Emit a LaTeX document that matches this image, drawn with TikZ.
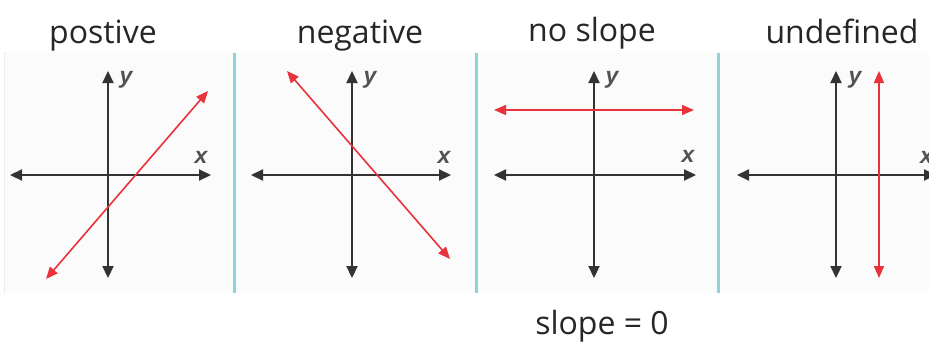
\documentclass[tikz,border=0pt]{standalone}
\usepackage{fontspec}
\setmainfont{Open Sans}
\newfontfamily\lblfont{Liberation Sans}
\usetikzlibrary{arrows.meta}
\definecolor{axisgray}{HTML}{333333}
\definecolor{slopered}{HTML}{E8323C}
\definecolor{divcyan}{HTML}{8ED2DC}
\tikzset{
  axisline/.style={draw=axisgray, line width=2.2pt, {Triangle[length=12pt,width=11pt]}-{Triangle[length=12pt,width=11pt]}},
  redline/.style={draw=slopered, line width=1.6pt, {Triangle[length=12pt,width=10pt]}-{Triangle[length=12pt,width=10pt]}},
  divider/.style={draw=divcyan, line width=3pt},
  title/.style={font=\fontsize{32}{36}\selectfont, text=black!85, anchor=base, inner sep=0pt},
  axlabel/.style={font=\lblfont\bfseries\itshape\fontsize{23}{24}\selectfont, text=axisgray!85, inner sep=0pt}
}
\begin{document}
\begin{tikzpicture}[x=1pt,y=-1pt]
\useasboundingbox (0,0) rectangle (929,346);
\fill[gray!3] (5,52) rectangle (929,293);
\draw[gray!30, densely dotted, line width=1pt] (4,52) -- (4,293);
% titles
\node[title] (t1) at (103,43) {postive};
\node[title] (t2) at (360,43) {negative};
\node[title] (t3) at (592,41) {no slope};
\node[title] (t4) at (842,43) {undefined};
\node[title] (t5) at (602,334) {slope = 0};
% dividers
\coordinate (d1a) at (234,53); \coordinate (d1b) at (234,293);
\coordinate (d2a) at (476,53); \coordinate (d2b) at (476,293);
\coordinate (d3a) at (718,53); \coordinate (d3b) at (718,293);
\draw[divider] (d1a) -- (d1b);
\draw[divider] (d2a) -- (d2b);
\draw[divider] (d3a) -- (d3b);
% panel 1
\coordinate (p1xl) at (10,175); \coordinate (p1xr) at (211,175);
\coordinate (p1yt) at (108,71); \coordinate (p1yb) at (108,278);
\draw[axisline] (p1xl) -- (p1xr);
\draw[axisline] (p1yb) -- (p1yt);
\coordinate (p1ra) at (46,279); \coordinate (p1rb) at (208,91);
\draw[redline] (p1ra) -- (p1rb);
\node[axlabel] (p1y) at (126,80) {y};
\node[axlabel] (p1x) at (201,157) {x};
% panel 2
\coordinate (p2xl) at (251,175); \coordinate (p2xr) at (451,175);
\coordinate (p2yt) at (352,71); \coordinate (p2yb) at (352,278);
\draw[axisline] (p2xl) -- (p2xr);
\draw[axisline] (p2yb) -- (p2yt);
\coordinate (p2ra) at (287,71); \coordinate (p2rb) at (450,259);
\draw[redline] (p2ra) -- (p2rb);
\node[axlabel] (p2y) at (370,80) {y};
\node[axlabel] (p2x) at (444,157) {x};
% panel 3
\coordinate (p3xl) at (494,175); \coordinate (p3xr) at (696,175);
\coordinate (p3yt) at (594,71); \coordinate (p3yb) at (594,278);
\draw[axisline] (p3xl) -- (p3xr);
\draw[axisline] (p3yb) -- (p3yt);
\coordinate (p3ra) at (494,110); \coordinate (p3rb) at (694,110);
\draw[redline] (p3ra) -- (p3rb);
\node[axlabel] (p3y) at (612,80) {y};
\node[axlabel] (p3x) at (688,156) {x};
% panel 4
\coordinate (p4xl) at (737,175); \coordinate (p4xr) at (936,175);
\coordinate (p4yt) at (836,71); \coordinate (p4yb) at (836,278);
\draw[axisline] (p4xl) -- (p4xr);
\draw[axisline] (p4yb) -- (p4yt);
\coordinate (p4ra) at (879,71); \coordinate (p4rb) at (879,278);
\draw[redline] (p4ra) -- (p4rb);
\node[axlabel] (p4y) at (855,80) {y};
\node[axlabel, anchor=west] (p4x) at (920,157) {x};
\end{tikzpicture}
\end{document}
